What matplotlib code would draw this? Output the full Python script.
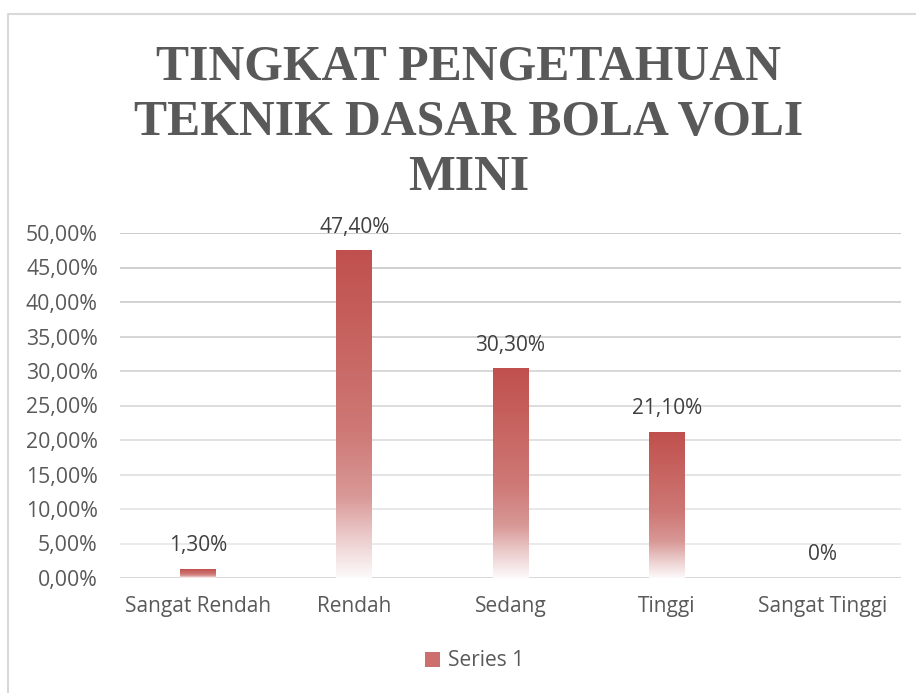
import numpy as np
import matplotlib
matplotlib.use("Agg")
import matplotlib.pyplot as plt
from matplotlib.colors import LinearSegmentedColormap
from matplotlib.patches import Rectangle
from matplotlib.lines import Line2D

# data
categories = ["Sangat Rendah", "Rendah", "Sedang", "Tinggi", "Sangat Tinggi"]
values = [1.30, 47.40, 30.30, 21.10, 0.0]
value_labels = ["1,30%", "47,40%", "30,30%", "21,10%", "0%"]
yticks = [0, 5, 10, 15, 20, 25, 30, 35, 40, 45, 50]
ytick_labels = [f"{v},00%" for v in yticks]
title = "TINGKAT PENGETAHUAN\nTEKNIK DASAR BOLA VOLI\nMINI"
series_name = "Series 1"

# bar fill: red at the top fading to white at the base
grad = LinearSegmentedColormap.from_list("fade", [
    (0.00, (192/255, 80/255, 77/255)),
    (0.55, (206/255, 120/255, 117/255)),
    (0.75, (216/255, 152/255, 150/255)),
    (0.88, (236/255, 205/255, 205/255)),
    (1.00, (253/255, 250/255, 250/255)),
])

W, H = 916, 693
fig = plt.figure(figsize=(W / 100, H / 100), dpi=100, facecolor="white")

# chart frame (left + top edges visible)
fig.add_artist(Line2D([8 / W, 8 / W, 1.0], [0.0, 1 - 14 / H, 1 - 14 / H],
                      transform=fig.transFigure, color="#d9d9d9", lw=1.5))

# title, one line at a time
for i, line in enumerate(title.split("\n")):
    fig.text(469 / W, 1 - (80 + 55 * i) / H, line, ha="center", va="baseline",
             fontsize=35.7, fontweight="bold", family="Liberation Serif", color="#595959")

ax = fig.add_axes([120 / W, 1 - 578 / H, (901 - 120) / W, (578 - 233) / H])
x = np.arange(len(categories))
bar_w = 0.23

# gridlines get lighter toward the bottom
for v in yticks:
    frac = v / 50
    c = 0.93 - 0.15 * frac if v > 0 else 0.84
    ax.axhline(v, color=(c, c, c), lw=1.3, zorder=0)

ramp = np.linspace(0, 1, 256).reshape(-1, 1)
for xi, v in zip(x, values):
    if v <= 0:
        continue
    ax.imshow(ramp, cmap=grad, aspect="auto", interpolation="bilinear",
              extent=[xi - bar_w / 2, xi + bar_w / 2, 0, v], origin="upper", zorder=2)
ax.set_xlim(-0.5, len(categories) - 0.5)
ax.set_ylim(0, 50)

for xi, v, lab in zip(x, values, value_labels):
    ax.annotate(lab, (xi, v), xytext=(0, 13), textcoords="offset points",
                ha="center", va="baseline", fontsize=15, family="Open Sans", color="#404040")

ax.set_yticks(yticks)
ax.set_yticklabels(ytick_labels, family="Open Sans", fontsize=15.3, color="#595959")
ax.set_xticks(x)
ax.set_xticklabels(categories, family="Open Sans", fontsize=15, color="#595959")
ax.tick_params(axis="y", length=0, pad=16)
ax.tick_params(axis="x", length=0, pad=13)
for s in ax.spines.values():
    s.set_visible(False)

handle = Rectangle((0, 0), 1, 1, facecolor="#cd6f6c", edgecolor="none")
fig.legend([handle], [series_name], loc="center", bbox_to_anchor=(475 / W, 1 - 661 / H),
           frameon=False, prop={"family": "Open Sans", "size": 15},
           handlelength=0.7, handleheight=0.7, handletextpad=0.4, labelcolor="#595959")

fig.savefig("out.png", dpi=100, facecolor="white")
